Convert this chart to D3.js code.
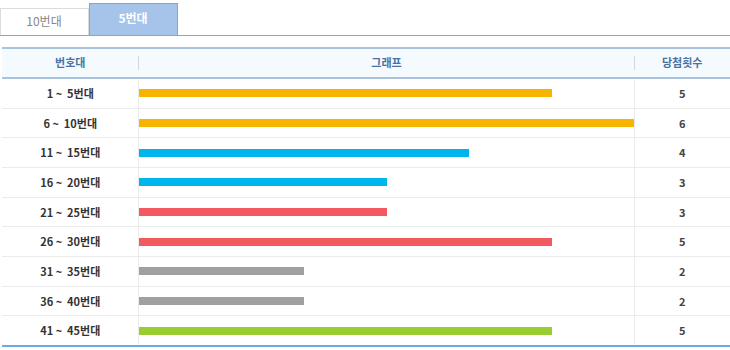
<!DOCTYPE html>
<html>
<head>
<meta charset="utf-8">
<script src="https://cdn.jsdelivr.net/npm/d3@7"></script>
<style>
  html, body { margin: 0; padding: 0; background: #fff; }
  svg { display: block; }
  text { font-family: "Noto Sans CJK KR", "Noto Sans", sans-serif; }
</style>
</head>
<body>
<svg id="chart" width="730" height="350"></svg>
<script>
const tabs = ["10번대", "5번대"];
const headers = ["번호대", "그래프", "당첨횟수"];
const categories = ["1 ~  5번대", "6 ~  10번대", "11 ~  15번대", "16 ~  20번대", "21 ~  25번대",
                    "26 ~  30번대", "31 ~  35번대", "36 ~  40번대", "41 ~  45번대"];
const counts = [5, 6, 4, 3, 3, 5, 2, 2, 5];
const groups = ["1-10", "1-10", "11-20", "11-20", "21-30", "21-30", "31-40", "31-40", "41-45"];

const svg = d3.select("#chart");
const color = d3.scaleOrdinal()
  .domain(["1-10", "11-20", "21-30", "31-40", "41-45"])
  .range(["#f7b500", "#00b5ec", "#f25a5f", "#a0a0a0", "#9acd32"]);

// Tabs
svg.append("rect").attr("x", 0.5).attr("y", 8.5).attr("width", 88).attr("height", 27)
  .attr("fill", "#fff").attr("stroke", "#dcdcdc");
svg.append("rect").attr("x", 89.5).attr("y", 3.5).attr("width", 88).attr("height", 32)
  .attr("fill", "#a6c3ea").attr("stroke", "#86a4cc");
svg.append("line").attr("x1", 0).attr("x2", 730).attr("y1", 35.5).attr("y2", 35.5)
  .attr("stroke", "#95a3b5").attr("stroke-width", 1);
svg.append("text").attr("x", 44).attr("y", 26).attr("text-anchor", "middle")
  .attr("font-size", 12).attr("fill", "#888").text(tabs[0]);
svg.append("text").attr("x", 133).attr("y", 23).attr("text-anchor", "middle")
  .attr("font-size", 12).attr("font-weight", "bold").attr("fill", "#fff").text(tabs[1]);

// Table geometry
const left = 2, right = 730;
const col1 = 138.5, col2 = 634.5;
const headTop = 48, headBottom = 78;
const bodyTop = 79, bodyBottom = 346;

const y = d3.scaleBand().domain(categories).range([bodyTop, bodyBottom]).padding(0);
const x = d3.scaleLinear().domain([0, 6]).range([139, 634]);

// Header
svg.append("rect").attr("x", left).attr("y", headTop).attr("width", right - left)
  .attr("height", headBottom - headTop).attr("fill", "#f5fafe");
svg.append("line").attr("x1", left).attr("x2", right).attr("y1", headTop).attr("y2", headTop)
  .attr("stroke", "#a9c3dc").attr("stroke-width", 2);
svg.append("line").attr("x1", left).attr("x2", right).attr("y1", headBottom).attr("y2", headBottom)
  .attr("stroke", "#a9c3dc").attr("stroke-width", 2);
[col1, col2].forEach(cx => {
  svg.append("line").attr("x1", cx).attr("x2", cx).attr("y1", 56).attr("y2", 70)
    .attr("stroke", "#cfd8e0").attr("stroke-width", 1);
});
const headX = [(left + col1) / 2, (col1 + col2) / 2, (col2 + right) / 2];
svg.selectAll("text.head").data(headers).join("text").attr("class", "head")
  .attr("x", (d, i) => headX[i]).attr("y", 67).attr("text-anchor", "middle")
  .attr("font-size", 11).attr("font-weight", "bold").attr("fill", "#4a73a0").text(d => d);

// Row separators
svg.selectAll("line.sep").data(categories.slice(1)).join("line").attr("class", "sep")
  .attr("x1", left).attr("x2", right)
  .attr("y1", d => Math.round(y(d)) - 0.5).attr("y2", d => Math.round(y(d)) - 0.5)
  .attr("stroke", "#ebebeb");
// Vertical body dividers
[col1, col2].forEach(cx => {
  svg.append("line").attr("x1", cx).attr("x2", cx).attr("y1", bodyTop).attr("y2", bodyBottom)
    .attr("stroke", "#ebebeb");
});

// Bars
svg.selectAll("rect.bar").data(categories).join("rect").attr("class", "bar")
  .attr("x", x(0))
  .attr("y", d => Math.round(y(d) + y.bandwidth() / 2 - 4.5))
  .attr("width", (d, i) => Math.round(x(counts[i]) - x(0)))
  .attr("height", 8)
  .attr("fill", (d, i) => color(groups[i]));

// Labels
svg.selectAll("text.cat").data(categories).join("text").attr("class", "cat")
  .attr("x", headX[0]).attr("y", d => y(d) + y.bandwidth() / 2 + 4)
  .attr("text-anchor", "middle").attr("font-size", 11).attr("font-weight", "bold")
  .attr("fill", "#333").attr("xml:space", "preserve").style("white-space", "pre").text(d => d);
svg.selectAll("text.cnt").data(categories).join("text").attr("class", "cnt")
  .attr("x", headX[2]).attr("y", d => y(d) + y.bandwidth() / 2 + 4)
  .attr("text-anchor", "middle").attr("font-size", 11).attr("font-weight", "bold")
  .attr("fill", "#444").text((d, i) => counts[i]);

// Bottom border
svg.append("line").attr("x1", left).attr("x2", right).attr("y1", bodyBottom).attr("y2", bodyBottom)
  .attr("stroke", "#6aaae6").attr("stroke-width", 2);
</script>
</body>
</html>
